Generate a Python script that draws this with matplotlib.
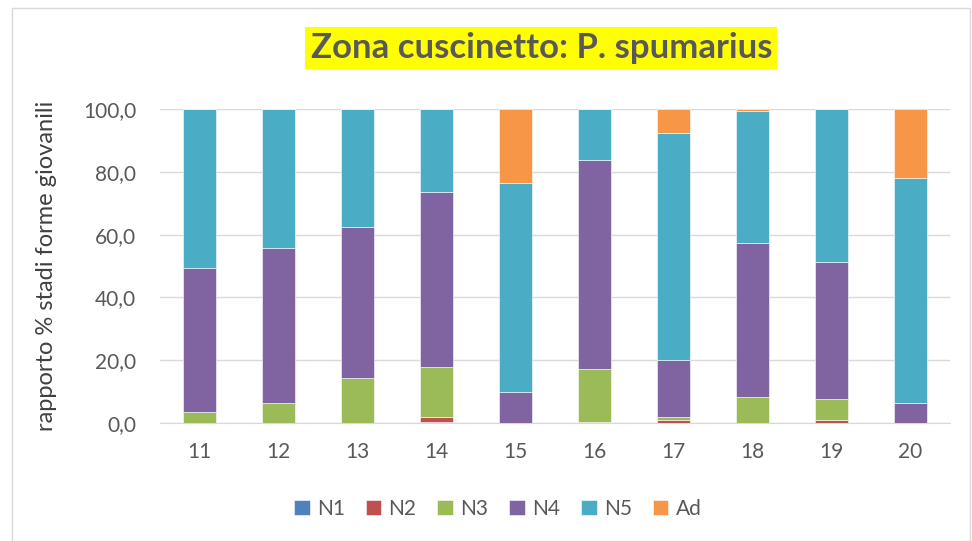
import numpy as np
import matplotlib
matplotlib.use('Agg')
import matplotlib.pyplot as plt
from matplotlib.ticker import FuncFormatter

plt.rcParams['font.family'] = ['Lato', 'DejaVu Sans']

categories = ['11', '12', '13', '14', '15', '16', '17', '18', '19', '20']
N1 = [0.0, 0.0, 0.0, 0.3, 0.0, 0.0, 0.0, 0.0, 0.0, 0.0]
N2 = [0.0, 0.0, 0.0, 1.7, 0.0, 0.3, 1.0, 0.0, 1.0, 0.0]
N3 = [3.5, 6.4, 14.2, 15.8, 0.0, 16.9, 1.0, 8.2, 6.5, 0.0]
N4 = [45.9, 49.3, 48.2, 55.8, 9.9, 66.6, 18.1, 49.1, 43.8, 6.3]
N5 = [50.6, 44.3, 37.6, 26.4, 66.4, 16.2, 72.2, 42.1, 48.7, 71.7]
Ad = [0.0, 0.0, 0.0, 0.0, 23.7, 0.0, 7.7, 0.6, 0.0, 22.0]

series = {'N1': N1, 'N2': N2, 'N3': N3, 'N4': N4, 'N5': N5, 'Ad': Ad}
colors = ['#4F81BD', '#C0504D', '#9BBB59', '#8064A2', '#4BACC6', '#F79646']

fig = plt.figure(figsize=(9.72, 5.41), dpi=100)
ax = fig.add_axes([160 / 972, 1 - 423 / 541, 790 / 972, 314 / 541])

x = np.arange(len(categories))
bottom = np.zeros(len(categories))
for (name, vals), col in zip(series.items(), colors):
    ax.bar(x, vals, 0.41, bottom=bottom, color=col, label=name,
           edgecolor='white', linewidth=0.4, zorder=3)
    bottom += np.array(vals)

ax.set_ylim(0, 100)
ax.set_xlim(-0.5, len(categories) - 0.5)
ax.set_yticks(np.arange(0, 101, 20))
ax.yaxis.set_major_formatter(FuncFormatter(lambda v, p: f'{v:.1f}'.replace('.', ',')))
ax.set_xticks(x)
ax.set_xticklabels(categories)
ax.grid(axis='y', color='#D9D9D9', linewidth=1, zorder=0)
for s in ['top', 'right', 'left']:
    ax.spines[s].set_visible(False)
ax.spines['bottom'].set_color('#D9D9D9')
ax.tick_params(axis='both', length=0, labelsize=15, colors='#595959')
ax.tick_params(axis='y', pad=17)
ax.tick_params(axis='x', pad=14)
ax.set_ylabel('rapporto % stadi forme giovanili', fontsize=17, color='#404040', labelpad=19)

fig.text(0.557, 0.911, 'Zona cuscinetto: P. spumarius', ha='center', va='center',
         fontsize=25, fontweight='bold', color='#595959',
         bbox=dict(boxstyle='square,pad=0.15', facecolor='#FFFF00', edgecolor='none'))

leg = fig.legend(loc='center', bbox_to_anchor=(0.512, 0.06), ncol=6, frameon=False,
                 fontsize=15, handlelength=0.75, handleheight=0.75, handletextpad=0.35,
                 columnspacing=1.0)
for t in leg.get_texts():
    t.set_color('#595959')

border = plt.Rectangle((0.012, 0.0), 0.986, 0.985, transform=fig.transFigure,
                       fill=False, edgecolor='#D9D9D9', linewidth=1)
fig.patches.append(border)

fig.savefig('out.png', dpi=100)
